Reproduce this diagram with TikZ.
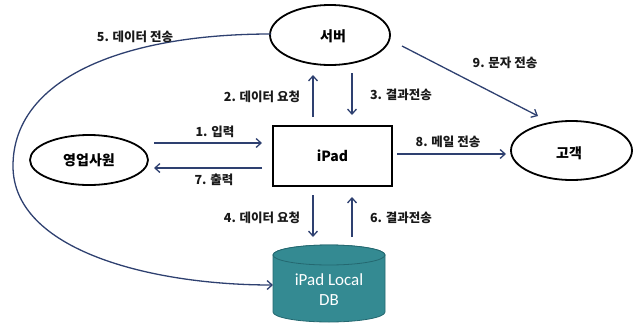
\documentclass[tikz,border=0pt]{standalone}
\usepackage{fontspec}
\setmainfont{Noto Sans CJK KR}
\newfontfamily\dbfont{Carlito}
\usetikzlibrary{arrows.meta,shapes.geometric}
\definecolor{navy}{RGB}{46,64,112}
\definecolor{teal}{RGB}{52,138,146}
\definecolor{tealdark}{RGB}{36,104,112}
\tikzset{
  ell/.style={ellipse,draw=black,line width=1.8pt,inner sep=0pt,font=\fontsize{14}{17}\selectfont\bfseries},
  flow/.style={draw=navy,line width=1.3pt,-{Straight Barb[length=5pt,width=9pt,line width=1.3pt]}},
  lbl/.style={font=\fontsize{12.5}{15}\selectfont\bfseries,inner sep=0pt,text=black!90},
}
\begin{document}
\begin{tikzpicture}[x=1pt,y=-1pt]
\useasboundingbox (0,0) rectangle (637,327);
% nodes
\node[ell,minimum width=120pt,minimum height=60pt] (server) at (330,35) {};
\node[font=\fontsize{14}{17}\selectfont\bfseries] (servert) at (333,36) {서버};
\node[ell,minimum width=118pt,minimum height=50pt] (sales) at (89,160) {영업사원};
\node[ell,minimum width=121pt,minimum height=59pt] (cust) at (571.5,150.5) {};
\node[font=\fontsize{14}{17}\selectfont\bfseries] (custt) at (569,153) {고객};
\node[draw=black,line width=1.8pt,minimum width=119pt,minimum height=60pt,inner sep=0pt,font=\fontsize{14}{17}\selectfont\bfseries] (ipad) at (332.5,156) {iPad};
% cylinder
\coordinate (dbw) at (273,285);
\fill[teal,draw=tealdark,line width=0.8pt] (273,255) -- (273,312) arc[start angle=180,end angle=0,x radius=56,y radius=10] -- (385,255) arc[start angle=0,end angle=-180,x radius=56,y radius=10] -- cycle;
\draw[tealdark,line width=0.8pt,fill=teal] (329,255) ellipse[x radius=56,y radius=10];
\node[text=white,font=\dbfont\fontsize{17}{20}\selectfont,align=center,inner sep=0pt] (db) at (329,290) {iPad Local\\DB};
% coordinates for arrows
\coordinate (a1s) at (154,143); \coordinate (a1e) at (262,143);
\coordinate (a7s) at (262,168); \coordinate (a7e) at (154,168);
\coordinate (a2s) at (313,117); \coordinate (a2e) at (313,75);
\coordinate (a3s) at (352,73); \coordinate (a3e) at (352,115);
\coordinate (a4s) at (313,195); \coordinate (a4e) at (313,237);
\coordinate (a6s) at (352,237); \coordinate (a6e) at (352,197);
\coordinate (a8s) at (397,154); \coordinate (a8e) at (506,154);
\coordinate (a9s) at (402,46); \coordinate (a9e) at (538,116);
\coordinate (a5s) at (271,34); \coordinate (a5m) at (13,166);
\draw[flow] (a1s) -- (a1e);
\draw[flow] (a7s) -- (a7e);
\draw[flow] (a2s) -- (a2e);
\draw[flow] (a3s) -- (a3e);
\draw[flow] (a4s) -- (a4e);
\draw[flow] (a6s) -- (a6e);
\draw[flow] (a8s) -- (a8e);
\draw[flow] (a9s) -- (a9e);
\draw[flow] (a5s) .. controls (120,34) and (13,80) .. (a5m) .. controls (13,250) and (150,285) .. (dbw);
% labels
\node[lbl] (l1) at (215,132) {1. 입력};
\node[lbl] (l7) at (214,180) {7. 출력};
\node[lbl] (l2) at (262,97) {2. 데이터 요청};
\node[lbl] (l3) at (401,95) {3. 결과전송};
\node[lbl] (l4) at (262,218) {4. 데이터 요청};
\node[lbl] (l6) at (401,218) {6. 결과전송};
\node[lbl] (l8) at (448,142) {8. 메일 전송};
\node[lbl] (l9) at (505,63) {9. 문자 전송};
\node[lbl] (l5) at (135,37) {5. 데이터 전송};
\end{tikzpicture}
\end{document}
